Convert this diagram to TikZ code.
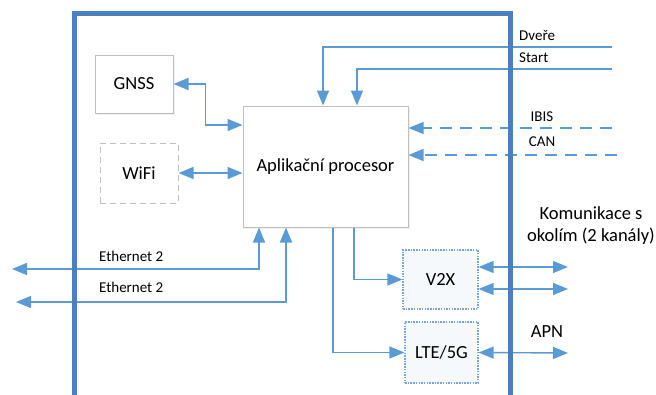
\documentclass[tikz,border=0pt]{standalone}
\usepackage{fontspec}
\setmainfont{Carlito}
\usetikzlibrary{arrows.meta}
\usetikzlibrary{shadows}
\usetikzlibrary{positioning}
\definecolor{frameblue}{RGB}{72,128,192}
\definecolor{linkblue}{RGB}{91,155,213}
\definecolor{boxgray}{RGB}{191,191,191}
\definecolor{dotblue}{RGB}{120,165,210}

\begin{document}
\begin{tikzpicture}[x=1pt,y=-1pt,>={Triangle[length=15pt,width=12pt]},
    link/.style={draw=linkblue,line width=1.4pt},
    box node/.style={rectangle,draw=boxgray,line width=1pt,fill=white,font=\fontsize{18.5}{22}\selectfont,
      drop shadow={opacity=0.12,shadow xshift=1.5pt,shadow yshift=-2pt}},
    dash node/.style={rectangle,draw=boxgray,line width=1pt,dash pattern=on 6pt off 4pt,font=\fontsize{18.5}{22}\selectfont},
    radio node/.style={rectangle,draw=dotblue,line width=1.2pt,dash pattern=on 1.5pt off 1.2pt,fill=linkblue!6,font=\fontsize{18.5}{22}\selectfont},
    small text/.style={inner sep=0pt,font=\fontsize{15}{18}\selectfont},
    big text/.style={inner sep=0pt,font=\fontsize{18.5}{22}\selectfont}]
  \useasboundingbox (0,0) rectangle (656,394);

  % blocks
  \node[box node,minimum width=78pt,minimum height=58pt] (gnss) at (134,84) {GNSS};
  \node[dash node,minimum width=78pt,minimum height=60pt] (wifi) at (139,173) {WiFi};
  \node[box node,minimum width=165pt,minimum height=121pt] (proc) at (325.5,166.5) {Aplikační procesor};
  \node[radio node,minimum width=75pt,minimum height=59pt] (v2x) at (440.5,279.5) {V2X};
  \node[radio node,minimum width=73pt,minimum height=61pt] (lte) at (441.5,352.5) {LTE/5G};

  % free ends
  \coordinate (dvere) at (612,47);
  \coordinate (start) at (612,69);
  \coordinate (ibis) at (612,128);
  \coordinate (can) at (617,155);
  \coordinate (eth1) at (12,269);
  \coordinate (eth2) at (16,302);
  \coordinate (kom1) at (568,267);
  \coordinate (kom2) at (568,289);
  \coordinate (apn) at (568,353);

  % links
  \draw[link,<->] (gnss.east) -- ++(32,0) |- (proc.west |- 0,125);
  \draw[link,<->] (wifi.east) -- (proc.west |- wifi.east);
  \draw[link,->] (dvere) -| (323,0 |- proc.north);
  \draw[link,->] (start) -| (357,0 |- proc.north);
  \draw[link,->,dash pattern=on 12pt off 8pt] (ibis) -- (proc.east |- ibis);
  \draw[link,->,dash pattern=on 12pt off 8pt] (can) -- (proc.east |- can);
  \draw[link,<->] (259,0 |- proc.south) |- (eth1);
  \draw[link,<->] (286,0 |- proc.south) |- (eth2);
  \draw[link,->] (354,0 |- proc.south) |- (v2x.west);
  \draw[link,->] (333,0 |- proc.south) |- (lte.west);
  \draw[link,<->] (v2x.east |- kom1) -- (kom1);
  \draw[link,<->] (v2x.east |- kom2) -- (kom2);
  \draw[link,<->] (lte.east) -- (apn);

  % texts
  \node[small text,anchor=west] (tdvere) at (519,35) {Dveře};
  \node[small text,anchor=west] (tstart) at (519,58) {Start};
  \node[small text] (tibis) at (542,117) {IBIS};
  \node[small text] (tcan) at (542,142) {CAN};
  \node[small text,anchor=west] (teth1) at (99,256) {Ethernet 2};
  \node[small text,anchor=west] (teth2) at (99,287) {Ethernet 2};
  \node[big text,align=center] (tkom) at (591,226) {Komunikace s\\okolím (2 kanály)};
  \node[big text] (tapn) at (547,332) {APN};

  % outer frame
  \draw[frameblue,line width=5pt] (74,400) -- (74,13.5) -- (510,13.5) -- (510,400);
\end{tikzpicture}
\end{document}
